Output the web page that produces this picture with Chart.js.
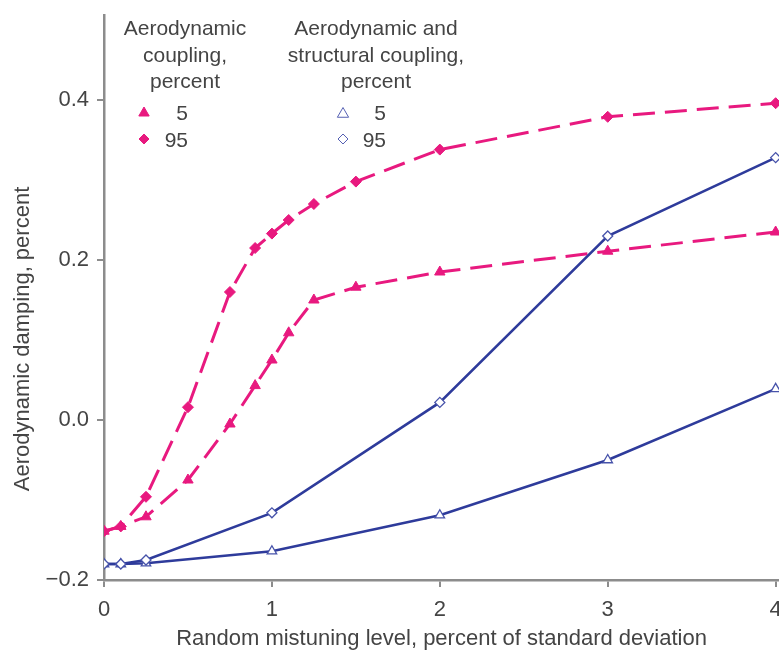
<!DOCTYPE html>
<html>
<head>
<meta charset="utf-8">
<script src="https://cdn.jsdelivr.net/npm/chart.js@4"></script>
<style>
html, body { margin: 0; padding: 0; background: #fff; overflow: hidden; }
#wrap { width: 779px; height: 652px; overflow: hidden; position: relative; }
canvas { position: absolute; left: 0; top: 0; }
</style>
</head>
<body>
<div id="wrap"><canvas id="line-chart" width="800" height="652"></canvas></div>
<script>
// mistuning level (x) and aerodynamic damping (y)
const mistuningAero = [0, 0.1, 0.25, 0.5, 0.75, 0.9, 1, 1.1, 1.25, 1.5, 2, 3, 4];
const aero5 = [-0.139, -0.133, -0.121, -0.075, -0.005, 0.043, 0.075, 0.109, 0.15, 0.166, 0.185, 0.211, 0.235];
const aero95 = [-0.139, -0.133, -0.096, 0.016, 0.16, 0.215, 0.233, 0.25, 0.27, 0.298, 0.338, 0.379, 0.396];

const mistuningStruct = [0, 0.1, 0.25, 1, 2, 3, 4];
const struct5 = [-0.18, -0.18, -0.179, -0.164, -0.119, -0.05, 0.039];
const struct95 = [-0.18, -0.18, -0.175, -0.116, 0.022, 0.23, 0.328];

const xTicks = [0, 1, 2, 3, 4];
const yTicks = [-0.2, 0, 0.2, 0.4];

const pink = '#e8197f';
const blue = '#2e3b9b';
const textColor = '#444';
const axisColor = '#8c8c8c';
const family = '"Liberation Sans", Arial, Helvetica, sans-serif';

const pts = (xs, ys) => xs.map((x, i) => ({ x: x, y: ys[i] }));

const fmtY = v => v === 0 ? '0.0' : (v < 0 ? '\u2212' : '') + Math.abs(v).toFixed(1);

// legend block and y title drawn on the canvas
const annotations = {
    id: 'annotations',
    afterDraw(chart) {
        const c = chart.ctx;
        c.save();
        c.fillStyle = textColor;
        c.font = '21px ' + family;
        c.textBaseline = 'alphabetic';
        c.textAlign = 'center';
        ['Aerodynamic', 'coupling,', 'percent'].forEach((t, i) => c.fillText(t, 185, 35 + i * 26.5));
        ['Aerodynamic and', 'structural coupling,', 'percent'].forEach((t, i) => c.fillText(t, 376, 35 + i * 26.5));
        c.textAlign = 'right';
        c.fillText('5', 188, 120);
        c.fillText('95', 188, 147);
        c.fillText('5', 386, 120);
        c.fillText('95', 386, 147);

        c.fillStyle = pink;
        c.strokeStyle = pink;
        Chart.helpers.drawPoint(c, { pointStyle: 'triangle', radius: 6, borderWidth: 1 }, 144, 113);
        Chart.helpers.drawPoint(c, { pointStyle: 'rectRot', radius: 5, borderWidth: 1 }, 144, 139);
        c.fillStyle = '#fff';
        c.strokeStyle = '#5560b3';
        Chart.helpers.drawPoint(c, { pointStyle: 'triangle', radius: 6.5, borderWidth: 1.6 }, 343, 114);
        Chart.helpers.drawPoint(c, { pointStyle: 'rectRot', radius: 5, borderWidth: 1.6 }, 343, 139);

        c.fillStyle = textColor;
        c.font = '22px ' + family;
        c.textAlign = 'center';
        c.textBaseline = 'middle';
        c.translate(23, 339);
        c.rotate(-Math.PI / 2);
        c.fillText('Aerodynamic damping, percent', 0, 0);
        c.restore();
    }
};

new Chart(document.getElementById('line-chart'), {
    type: 'line',
    data: {
        datasets: [{
            label: 'Aerodynamic and structural coupling 95',
            data: pts(mistuningStruct, struct95),
            borderColor: blue,
            borderWidth: 2.5,
            pointStyle: 'rectRot',
            pointRadius: 5,
            pointBackgroundColor: '#fff',
            pointBorderColor: '#4753aa',
            pointBorderWidth: 1.3
        }, {
            label: 'Aerodynamic and structural coupling 5',
            data: pts(mistuningStruct, struct5),
            borderColor: blue,
            borderWidth: 2.5,
            pointStyle: 'triangle',
            pointRadius: 5.5,
            pointBackgroundColor: '#fff',
            pointBorderColor: '#4753aa',
            pointBorderWidth: 1.3
        }, {
            label: 'Aerodynamic coupling 95',
            data: pts(mistuningAero, aero95),
            borderColor: pink,
            borderWidth: 3,
            borderDash: [22, 10],
            pointStyle: 'rectRot',
            pointRadius: 5.5,
            pointBackgroundColor: pink,
            pointBorderColor: pink,
            pointBorderWidth: 1
        }, {
            label: 'Aerodynamic coupling 5',
            data: pts(mistuningAero, aero5),
            borderColor: pink,
            borderWidth: 3,
            borderDash: [22, 10],
            pointStyle: 'triangle',
            pointRadius: 6,
            pointBackgroundColor: pink,
            pointBorderColor: pink,
            pointBorderWidth: 1
        }]
    },
    options: {
        responsive: false,
        animation: false,
        devicePixelRatio: 1,
        layout: { padding: { left: 0, right: 21, top: 15, bottom: 0 } },
        elements: { line: { tension: 0, fill: false } },
        plugins: { legend: { display: false }, tooltip: { enabled: false } },
        scales: {
            x: {
                type: 'linear',
                min: 0,
                max: 4.02,
                afterBuildTicks: s => { s.ticks = xTicks.map(v => ({ value: v })); },
                afterFit: s => { s.height = 72; s.paddingLeft = 0; s.paddingRight = 0; },
                grid: { drawOnChartArea: false, tickLength: 7, color: axisColor, lineWidth: 2 },
                border: { color: axisColor, width: 2.5 },
                ticks: { color: textColor, font: { size: 22, family: family }, padding: 10, maxRotation: 0, callback: v => String(v) },
                title: {
                    display: true,
                    text: 'Random mistuning level, percent of standard deviation',
                    color: textColor,
                    font: { size: 22, family: family },
                    padding: { top: 0, bottom: 0 }
                }
            },
            y: {
                min: -0.2,
                max: 0.50625,
                afterBuildTicks: s => { s.ticks = yTicks.map(v => ({ value: v })); },
                afterFit: s => { s.width = 104; s.paddingTop = 0; s.paddingBottom = 0; },
                grid: { drawOnChartArea: false, tickLength: 7, color: axisColor, lineWidth: 2 },
                border: { color: axisColor, width: 2.5 },
                ticks: { color: textColor, font: { size: 22, family: family }, padding: 8, callback: v => fmtY(v) }
            }
        }
    },
    plugins: [annotations]
});
</script>
</body>
</html>
